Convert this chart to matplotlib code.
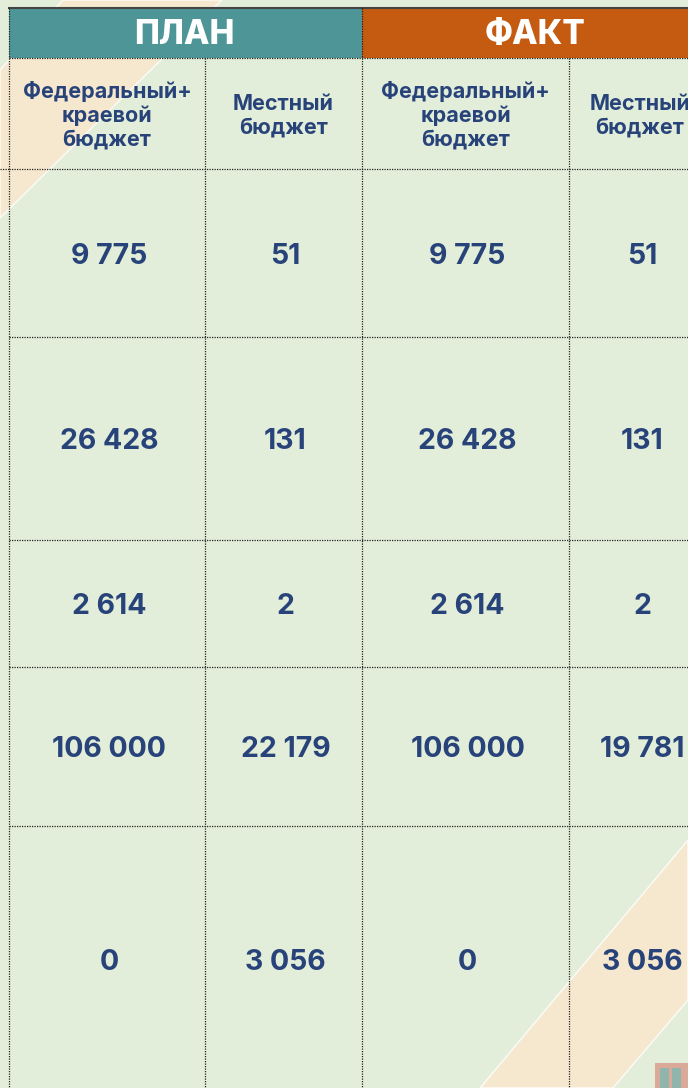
import matplotlib
matplotlib.use("Agg")
import matplotlib.pyplot as plt
from matplotlib.patches import Rectangle, Polygon

# table content
groups = ["ПЛАН", "ФАКТ"]
group_colors = ["#4E9598", "#C55A11"]
sub_headers = ["Федеральный+\nкраевой\nбюджет", "Местный\nбюджет",
               "Федеральный+\nкраевой\nбюджет", "Местный\nбюджет"]
plan_fed = ["9 775", "26 428", "2 614", "106 000", "0"]
plan_local = ["51", "131", "2", "22 179", "3 056"]
fact_fed = ["9 775", "26 428", "2 614", "106 000", "0"]
fact_local = ["51", "131", "2", "19 781", "3 056"]
columns = [plan_fed, plan_local, fact_fed, fact_local]

# layout in pixels
W, H = 688, 1088
col_edges = [9, 205, 362, 569, 711]
head_top, head_bot, sub_bot = 8, 58, 169
row_edges = [169, 337, 540, 667, 826, 1094]

navy = "#284379"
bg = "#E2EED9"
peach = "#FAE8CE"
font = "Inter"

fig = plt.figure(figsize=(W / 100, H / 100), dpi=100)
ax = fig.add_axes([0, 0, 1, 1])
ax.set_xlim(0, W)
ax.set_ylim(H, 0)
ax.axis("off")
fig.patch.set_facecolor(bg)

# diagonal background stripes
ax.add_patch(Polygon([(63, 0), (222, 0), (0, 218), (0, 70)], closed=True,
                     facecolor=peach, edgecolor="white", lw=1.0, alpha=0.85, zorder=0))
ax.add_patch(Polygon([(W, 840), (W, 1000), (613, 1088), (480, 1088)], closed=True,
                     facecolor=peach, edgecolor="white", lw=1.0, alpha=0.85, zorder=0))

# header bands
for i, (g, c) in enumerate(zip(groups, group_colors)):
    x0, x1 = col_edges[2 * i], col_edges[2 * i + 2]
    ax.add_patch(Rectangle((x0, head_top), x1 - x0, head_bot - head_top,
                           facecolor=c, edgecolor="none", zorder=1))
    ax.text((x0 + x1) / 2 - 1, (head_top + head_bot) / 2 + 2, g, color="white",
            fontsize=24, fontweight="heavy", family=font, ha="center", va="center", zorder=3)

# sub headers
for j, s in enumerate(sub_headers):
    xc = (col_edges[j] + col_edges[j + 1]) / 2
    ax.text(xc, (head_bot + sub_bot) / 2 + 2, s, color=navy, fontsize=15.5,
            fontweight="bold", family=font, ha="center", va="center",
            linespacing=1.22, zorder=3)

# values
for j, col in enumerate(columns):
    xc = (col_edges[j] + col_edges[j + 1]) / 2
    for i, v in enumerate(col):
        yc = (row_edges[i] + row_edges[i + 1]) / 2
        ax.text(xc + 2, yc + 3, v, color=navy, fontsize=20.5, fontweight="bold",
                family=font, ha="center", va="center", zorder=3)

# grid lines
dot = dict(color="#222222", lw=0.9, linestyle=(0, (1, 1)), zorder=2)
ax.plot([col_edges[0], W], [head_top, head_top], color="#444444", lw=1.5, zorder=2)
for x in col_edges:
    top = head_top if x in (col_edges[0], col_edges[2], col_edges[4]) else head_bot
    ax.plot([x, x], [top, H], **dot)
for y in [head_bot] + row_edges:
    ax.plot([col_edges[0], W], [y, y], **dot)
ax.plot([0, col_edges[0]], [sub_bot, sub_bot], **dot)

# small icon bottom right
ax.add_patch(Rectangle((655, 1063), 40, 30, facecolor="#D9A999", edgecolor="none", zorder=1))
for bx in (660, 672):
    ax.add_patch(Rectangle((bx, 1068), 9, 25, facecolor="#8FB5AC", edgecolor="none", zorder=1))

fig.savefig("out.png", dpi=100, facecolor=bg)
